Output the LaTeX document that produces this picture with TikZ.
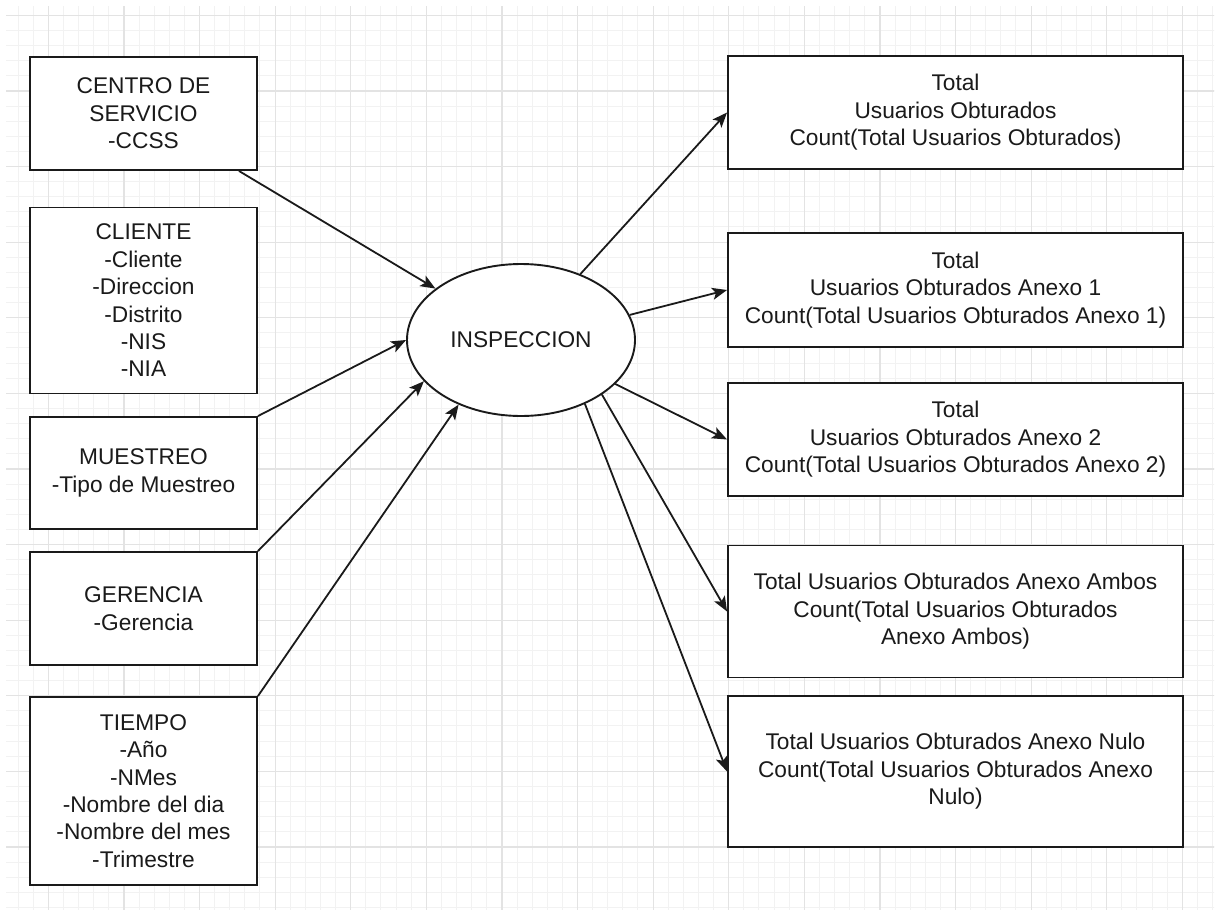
\documentclass[tikz,border=0pt]{standalone}
\usepackage{fontspec}
\setmainfont{Liberation Sans}
\usetikzlibrary{shapes.geometric,arrows.meta,calc}
\definecolor{gridminor}{HTML}{F2F2F2}
\definecolor{gridmajor}{HTML}{E3E3E3}
\definecolor{ink}{HTML}{1A1A1A}
\tikzset{
  box/.style={draw=ink, line width=1.9pt, fill=white, inner sep=0pt, align=center,
    text=ink, font=\fontsize{22.7}{27.4}\selectfont},
  lbox/.style={box, minimum width=227pt},
  rbox/.style={box, minimum width=455pt},
  hub/.style={box, ellipse, minimum width=228pt, minimum height=152pt},
  conn/.style={draw=ink, line width=1.8pt, -{Stealth[length=15pt,width=12pt,inset=3.5pt]}},
  minorline/.style={draw=gridminor, line width=1pt},
  majorline/.style={draw=gridmajor, line width=1.2pt},
}
\begin{document}
\begin{tikzpicture}[x=1pt,y=-1pt]
  \useasboundingbox (0,0) rectangle (1218,913);
  \fill[white] (0,0) rectangle (1218,913);
  % grid
  \begin{scope}
    \clip (6,6) rectangle (1214,909);
    \foreach \i in {-3,...,78} {
      \draw[minorline] ({48.3+15.12*\i},0) -- ({48.3+15.12*\i},913);
    }
    \foreach \i in {-1,...,60} {
      \draw[minorline] (0,{15.3+15.12*\i}) -- (1218,{15.3+15.12*\i});
    }
    \foreach \i in {-1,...,16} {
      \draw[majorline] ({48.3+75.6*\i},0) -- ({48.3+75.6*\i},913);
    }
    \foreach \i in {0,...,12} {
      \draw[majorline] (0,{15.3+75.6*\i}) -- (1218,{15.3+75.6*\i});
    }
  \end{scope}

  % left boxes
  \node[lbox, minimum height=113pt] (A) at (143.5,113.5) {CENTRO DE\\SERVICIO\\-CCSS};
  \node[lbox, minimum height=186pt] (B) at (143.5,300.5) {CLIENTE\\-Cliente\\-Direccion\\-Distrito\\-NIS\\-NIA};
  \node[lbox, minimum height=112pt] (C) at (143.5,473) {MUESTREO\\-Tipo de Muestreo};
  \node[lbox, minimum height=113pt] (D) at (143.5,608.5) {GERENCIA\\-Gerencia};
  \node[lbox, minimum height=188pt] (E) at (143.5,791) {TIEMPO\\-Año\\-NMes\\-Nombre del dia\\-Nombre del mes\\-Trimestre};

  % hub
  \node[hub] (I) at (521,340) {INSPECCION};

  % right boxes
  \node[rbox, minimum height=113pt] (R1) at (955.5,112.5) {Total\\Usuarios Obturados\\Count(Total Usuarios Obturados)};
  \node[rbox, minimum height=114pt] (R2) at (955.5,290) {Total\\Usuarios Obturados Anexo 1\\Count(Total Usuarios Obturados Anexo 1)};
  \node[rbox, minimum height=113pt] (R3) at (955.5,439.5) {Total\\Usuarios Obturados Anexo 2\\Count(Total Usuarios Obturados Anexo 2)};
  \node[rbox, minimum height=132pt] (R4) at (955.5,611.5) {Total Usuarios Obturados Anexo Ambos\\Count(Total Usuarios Obturados\\Anexo Ambos)};
  \node[rbox, minimum height=151pt] (R5) at (955.5,771.5) {Total Usuarios Obturados Anexo Nulo\\Count(Total Usuarios Obturados Anexo\\Nulo)};

  % incoming connectors
  \draw[conn] ($(A.south east)+(-19,0)$) -- (I.149);
  \draw[conn] (C.north east) -- (I.west);
  \draw[conn] (D.north east) -- (I.203);
  \draw[conn] (E.north east) -- (I.226);

  % outgoing connectors
  \draw[conn] (I.48) -- (R1.west);
  \draw[conn] (I.13) -- (R2.west);
  \draw[conn] (I.335) -- (R3.west);
  \draw[conn] (I.326) -- (R4.west);
  \draw[conn] (I.315) -- (R5.west);
\end{tikzpicture}
\end{document}
